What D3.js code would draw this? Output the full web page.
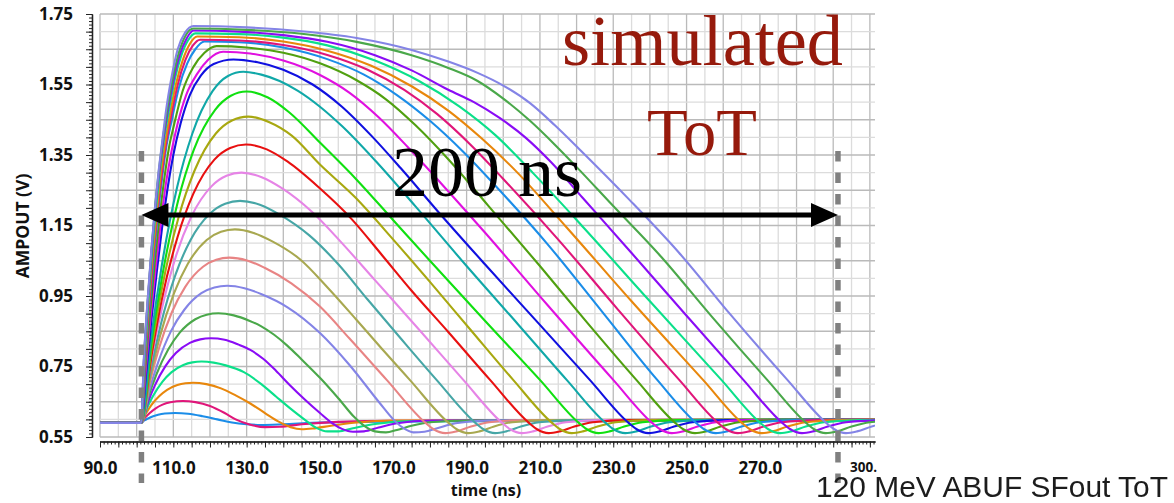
<!DOCTYPE html>
<html>
<head>
<meta charset="utf-8">
<script src="https://cdn.jsdelivr.net/npm/d3@7"></script>
<style>
  html, body { margin: 0; padding: 0; background: #fff; }
  svg { display: block; }
</style>
</head>
<body>
<svg id="chart" width="1174" height="503"></svg>
<script>
// AMPOUT transient for a sweep of injected charge: [time ns, volts]
const step01 = [[90,.59],[101.2,.59],[102.1,.597],[103.1,.6025],[104.5,.6088],[105.85,.6131],[107.7,.6165],[110.5,.618],[114,.616],[118,.609],[122,.6],[126,.591],[130,.586],[134,.584],[140,.586],[148,.59],[160,.593],[200,.595],[310,.596]];
const step02 = [[90,.59],[101.2,.59],[102.3,.605],[103.5,.6176],[105.2,.6315],[106.9,.6411],[109.2,.6486],[112.6,.652],[116,.649],[120,.638],[124,.618],[127,.6],[131,.585],[135,.578],[139,.579],[145,.586],[155,.593],[170,.596],[310,.597]];
const step03 = [[90,.59],[101.2,.59],[102.6,.618],[104,.6407],[106.2,.6664],[108.3,.684],[111.1,.6977],[113.3,.7026],[115.4,.704],[119,.7],[123,.688],[127,.668],[131,.645],[135,.618],[139,.592],[142,.578],[145,.572],[148,.574],[153,.582],[160,.591],[170,.597],[310,.598]];
const step04 = [[90,.59],[101.2,.59],[102.85,.633],[104.5,.667],[107,.7066],[109.45,.7334],[112.75,.7544],[115.2,.7618],[117.7,.764],[121,.7609],[124.3,.7532],[129.25,.7339],[134,.7],[138,.665],[141.8,.632],[146,.598],[149,.576],[152,.566],[155,.566],[159,.575],[165,.587],[175,.595],[310,.598]];
const step05 = [[90,.59],[101.2,.59],[103.1,.649],[105,.697],[107.85,.751],[110.7,.788],[114.5,.817],[117.35,.827],[120.2,.83],[124,.826],[127.8,.812],[131,.797],[134.5,.772],[138,.738],[141.8,.697],[146,.655],[150,.618],[153.5,.588],[156,.573],[159,.565],[162,.566],[166,.577],[171,.589],[180,.597],[310,.598]];
const step06 = [[90,.59],[101.2,.59],[103.3,.667],[105.4,.728],[108.6,.798],[111.75,.846],[116,.884],[119.1,.897],[122.3,.901],[126.5,.895],[130.7,.88],[134,.864],[137.5,.84],[141,.81],[145,.77],[150,.718],[155,.66],[159.5,.605],[162,.582],[165,.566],[168,.563],[171,.57],[175,.582],[180,.592],[190,.597],[310,.598]];
const step07 = [[90,.59],[101.2,.59],[103.55,.686],[105.9,.763],[109.4,.851],[113,.911],[117.65,.958],[121.2,.974],[124.7,.979],[129.4,.972],[134.1,.955],[141.15,.918],[150,.845],[158,.755],[166.4,.645],[170,.6],[172.5,.577],[175.5,.563],[178.5,.565],[182,.575],[187,.589],[196,.597],[310,.598]];
const step08 = [[90,.59],[101.2,.59],[103.6,.705],[106,.799],[109.6,.904],[113.25,.976],[118.1,1.033],[121.7,1.053],[125.3,1.059],[130.1,1.051],[134.9,1.03],[142.2,.986],[150,.92],[158,.83],[168.2,.712],[178.8,.59],[181,.572],[184.2,.561],[187.2,.566],[191.2,.58],[196.2,.592],[206.2,.598],[310,.6]];
const step09 = [[90,.59],[101.2,.59],[103.8,.725],[106.3,.834],[110.2,.958],[114,1.042],[119.1,1.109],[123,1.132],[126.8,1.139],[131.9,1.129],[137,1.105],[144.7,1.053],[152,.975],[160,.882],[167,.799],[174.5,.712],[185.1,.59],[187.3,.572],[190.5,.561],[193.5,.566],[197.5,.58],[202.5,.592],[212.5,.598],[310,.6]];
const step10 = [[90,.59],[101.2,.59],[103.9,.745],[106.6,.87],[110.65,1.012],[114.7,1.109],[120.1,1.185],[124.15,1.212],[128.2,1.22],[133.6,1.209],[139,1.181],[147.1,1.122],[155,1.04],[163,.94],[172,.83],[181.8,.712],[192.4,.59],[194.6,.572],[197.8,.561],[200.8,.566],[204.8,.58],[209.8,.592],[219.8,.598],[310,.6]];
const step11 = [[90,.59],[101.2,.59],[103.9,.765],[106.7,.906],[110.8,1.066],[114.9,1.175],[120.4,1.261],[124.5,1.291],[128.6,1.3],[134.1,1.287],[139.6,1.256],[147.8,1.189],[156,1.1],[165,.995],[177,.855],[189.1,.712],[199.7,.59],[201.9,.572],[205.1,.561],[208.1,.566],[212.1,.58],[217.1,.592],[227.1,.598],[310,.6]];
const step12 = [[90,.59],[101.2,.59],[104.1,.784],[106.9,.942],[111.2,1.119],[115.5,1.241],[121.2,1.337],[125.5,1.37],[129.8,1.38],[135.5,1.366],[141.2,1.331],[149.8,1.257],[158.4,1.171],[167,1.065],[175,.965],[185,.848],[196.4,.712],[207,.59],[209.2,.572],[212.4,.561],[215.4,.566],[219.4,.58],[224.4,.592],[234.4,.598],[310,.6]];
const step13 = [[90,.59],[101.2,.59],[104.1,.804],[107,.977],[111.4,1.172],[115.8,1.306],[121.6,1.411],[126,1.448],[130.4,1.459],[136.2,1.443],[142.3,1.405],[150,1.323],[159.6,1.23],[170,1.11],[180,.99],[191,.855],[202.7,.712],[213.3,.59],[215.5,.572],[218.7,.561],[221.7,.566],[225.7,.58],[230.7,.592],[240.7,.598],[310,.6]];
const step14 = [[90,.59],[101.2,.59],[104.1,.821],[107,1.008],[111.3,1.22],[115.6,1.365],[121.4,1.478],[125.7,1.518],[130,1.53],[135.8,1.513],[141.5,1.472],[150.2,1.383],[160,1.28],[170,1.165],[180,1.05],[195,.88],[210,.712],[220.6,.59],[222.8,.572],[226,.561],[229,.566],[233,.58],[238,.592],[248,.598],[310,.6]];
const step15 = [[90,.59],[101.2,.59],[104,.835],[106.8,1.033],[111,1.257],[115.2,1.411],[120.7,1.531],[124.9,1.574],[129.1,1.586],[134,1.578],[139,1.56],[144,1.532],[150,1.487],[156,1.432],[165,1.335],[176,1.205],[190,1.035],[204,.87],[217.3,.712],[227.9,.59],[230.1,.572],[233.3,.561],[236.3,.566],[240.3,.58],[245.3,.592],[255.3,.598],[310,.6]];
const step16 = [[90,.59],[101.2,.59],[102.5,.72],[104,.88],[105.5,1.02],[107,1.15],[108.5,1.26],[110,1.35],[112,1.44],[114.5,1.52],[117.5,1.575],[121,1.608],[126.4,1.621],[133,1.613],[140,1.592],[148,1.55],[156,1.487],[164,1.405],[172,1.313],[182,1.192],[195,1.04],[210,.868],[223.6,.712],[234.2,.59],[236.4,.572],[239.6,.561],[242.6,.566],[246.6,.58],[251.6,.592],[261.6,.598],[310,.6]];
const step17 = [[90,.59],[101.2,.59],[102.4,.73],[103.8,.89],[105.2,1.03],[106.6,1.16],[108,1.27],[109.5,1.36],[111.2,1.44],[113.5,1.52],[116.5,1.58],[119.5,1.62],[123.6,1.643],[131,1.638],[140,1.618],[150,1.577],[158,1.527],[166,1.457],[174,1.372],[183,1.27],[195,1.13],[212,.925],[230,.712],[240.6,.59],[242.8,.572],[246,.561],[249,.566],[253,.58],[258,.592],[268,.598],[310,.6]];
const step18 = [[90,.59],[101.2,.59],[102.3,.74],[103.6,.9],[104.9,1.04],[106.2,1.17],[107.5,1.28],[108.8,1.37],[110.3,1.44],[112.5,1.53],[115.5,1.6],[118.5,1.64],[121.8,1.659],[130,1.655],[140,1.64],[150,1.61],[160,1.562],[168,1.508],[176,1.435],[185,1.338],[196,1.205],[210,1.035],[223,.873],[236.3,.712],[246.9,.59],[249.1,.572],[252.3,.561],[255.3,.566],[259.3,.58],[264.3,.592],[274.3,.598],[310,.6]];
const step19 = [[90,.59],[101.2,.59],[102.2,.75],[103.4,.91],[104.6,1.05],[105.8,1.18],[107,1.29],[108.2,1.38],[109.6,1.45],[111.5,1.54],[113.8,1.61],[116,1.65],[118.5,1.672],[128,1.67],[140,1.655],[152,1.622],[162,1.578],[171,1.52],[180,1.447],[189,1.36],[199,1.25],[212,1.098],[227,.905],[242,.712],[252.6,.59],[254.8,.572],[258,.561],[261,.566],[265,.58],[270,.592],[280,.598],[310,.6]];
const step20 = [[90,.59],[101.2,.59],[102.2,.755],[103.3,.91],[104.4,1.05],[105.6,1.18],[106.8,1.29],[108,1.38],[109.4,1.46],[111.2,1.55],[113.3,1.62],[115.3,1.66],[117.3,1.677],[128,1.675],[140,1.662],[152,1.634],[163,1.592],[173,1.535],[182,1.466],[191,1.38],[200,1.282],[215,1.11],[231,.915],[248,.712],[258.6,.59],[260.8,.572],[264,.561],[267,.566],[271,.58],[276,.592],[286,.598],[310,.6]];
const step21 = [[90,.59],[101.2,.59],[102.1,.76],[103.2,.92],[104.3,1.06],[105.4,1.18],[106.5,1.29],[107.7,1.38],[109,1.46],[110.7,1.55],[112.6,1.62],[114.5,1.665],[116.5,1.686],[128,1.684],[140,1.672],[152,1.646],[164,1.603],[175,1.545],[185,1.476],[194,1.398],[203.4,1.305],[217,1.148],[235,.935],[254.5,.712],[265.1,.59],[267.3,.572],[270.5,.561],[273.5,.566],[277.5,.58],[282.5,.592],[292.5,.598],[310,.6]];
const step22 = [[90,.59],[101.2,.59],[102.1,.765],[103.1,.92],[104.1,1.06],[105.2,1.19],[106.3,1.3],[107.4,1.39],[108.7,1.47],[110.3,1.56],[112.1,1.63],[114,1.675],[116,1.695],[128,1.693],[140,1.683],[152,1.661],[165,1.618],[177,1.56],[188,1.488],[198,1.405],[208,1.3],[222,1.143],[240,.935],[259.5,.712],[270.1,.59],[272.3,.572],[275.5,.561],[278.5,.566],[282.5,.58],[287.5,.592],[297.5,.598],[310,.6]];
const step23 = [[90,.59],[101.2,.59],[102,.77],[103,.93],[104,1.07],[105,1.19],[106,1.29],[107.1,1.38],[108.4,1.47],[110,1.56],[111.8,1.635],[113.6,1.68],[115.5,1.703],[128,1.7],[140,1.69],[152,1.671],[165,1.633],[175,1.59],[185,1.535],[192,1.5],[199,1.455],[206,1.4],[213,1.33],[221.7,1.228],[235,1.072],[250,.894],[265.5,.712],[276.1,.59],[278.3,.572],[281.5,.561],[284.5,.566],[288.5,.58],[293.5,.592],[303.5,.598],[310,.6]];
const step24 = [[90,.59],[101.2,.59],[102,.775],[103,.935],[104,1.075],[105,1.2],[106,1.3],[107,1.385],[108.2,1.47],[109.8,1.565],[111.5,1.64],[113.4,1.69],[115.5,1.709],[130,1.705],[145,1.694],[160,1.671],[175,1.633],[185,1.597],[193,1.56],[200,1.51],[207.3,1.447],[214,1.38],[221,1.305],[229.1,1.215],[243,1.062],[257,.89],[272,.712],[282.6,.59],[284.8,.572],[288,.561],[291,.566],[295,.58],[300,.592],[310,.598]];
const step25 = [[90,.59],[101.2,.59],[102,.78],[103,.94],[104,1.08],[105,1.2],[106,1.305],[107,1.39],[108,1.475],[109.5,1.57],[111.2,1.65],[113.2,1.697],[115.5,1.716],[130,1.712],[145,1.701],[160,1.682],[175,1.648],[185,1.615],[193,1.583],[200,1.547],[207.3,1.497],[214,1.435],[220.9,1.365],[234.5,1.222],[248,1.072],[262,.897],[277.5,.712],[288.1,.59],[290.3,.572],[293.5,.561],[296.5,.566],[300.5,.58],[305.5,.592],[315,.598]];

const sweep = [step01, step02, step03, step04, step05, step06, step07, step08, step09, step10,
               step11, step12, step13, step14, step15, step16, step17, step18, step19, step20,
               step21, step22, step23, step24, step25];

// trace colours cycle through an 18-entry palette
const tracePalette = ["#1b8de8", "#e0167a", "#e8870c", "#0be08a", "#8a0cf5", "#4aa84a",
                      "#8484e6", "#e88484", "#a8a850", "#46a6a6", "#e684e6", "#e81010",
                      "#a8a810", "#10e010", "#10a8a8", "#1010e0", "#e010e0", "#50a010"];

const xLabelTicks = [90, 110, 130, 150, 170, 190, 210, 230, 250, 270];
const yLabelTicks = [0.55, 0.75, 0.95, 1.15, 1.35, 1.55, 1.75];
const totMarkers = [101.3, 291.3];   // threshold crossings marked by dashed lines

const svg = d3.select("#chart");
svg.append("rect").attr("width", 1174).attr("height", 503).attr("fill", "#fff");

const x = d3.scaleLinear().domain([90, 301.4]).range([100, 875]);
const y = d3.scaleLinear().domain([0.55, 1.75]).range([437, 14]);

// grid
const grid = svg.append("g");
const vGrid = d3.range(90, 301, 5);
grid.selectAll("line.v").data(vGrid).join("line")
  .attr("x1", d => x(d)).attr("x2", d => x(d))
  .attr("y1", y(1.75)).attr("y2", y(0.55))
  .attr("stroke", d => d % 10 === 0 ? "#bababa" : "#dcdcdc")
  .attr("stroke-width", 1.3);
const hGrid = d3.range(0, 25).map(i => +(0.55 + i * 0.05).toFixed(2));
grid.selectAll("line.h").data(hGrid).join("line")
  .attr("x1", x(90)).attr("x2", 875)
  .attr("y1", d => y(d)).attr("y2", d => y(d))
  .attr("stroke", (d, i) => i % 2 === 0 ? "#bababa" : "#dcdcdc")
  .attr("stroke-width", 1.3);

// y axis (offset to the left of the plot box)
const fine = d3.range(0, 121).map(i => +(0.55 + i * 0.01).toFixed(2));
const yAxisG = svg.append("g").attr("transform", "translate(92,0)");
yAxisG.call(d3.axisLeft(y).tickValues(fine).tickSize(3).tickFormat("").tickSizeOuter(0));
yAxisG.append("g").call(d3.axisLeft(y).tickValues(hGrid).tickSize(6).tickFormat("").tickSizeOuter(0));
yAxisG.append("g").call(d3.axisLeft(y).tickValues(yLabelTicks).tickSize(0).tickPadding(19)
  .tickFormat(d3.format(".2f")).tickSizeOuter(0));
yAxisG.selectAll("path").attr("stroke", "#222").attr("stroke-width", 1.2);
yAxisG.selectAll("line").attr("stroke", "#222").attr("stroke-width", 1);
yAxisG.selectAll("text").attr("font-family", "'Open Sans', sans-serif")
  .attr("font-weight", 700).attr("font-size", 17).attr("fill", "#111");

// x axis (offset below the plot box)
const fineT = d3.range(90, 302, 1);
const xAxisG = svg.append("g").attr("transform", "translate(0,441.5)");
xAxisG.call(d3.axisBottom(x).tickValues(fineT).tickSize(3).tickFormat("").tickSizeOuter(0));
xAxisG.append("g").call(d3.axisBottom(x).tickValues(vGrid).tickSize(6).tickFormat("").tickSizeOuter(0));
xAxisG.append("g").call(d3.axisBottom(x).tickValues(xLabelTicks).tickSize(0).tickPadding(20)
  .tickFormat(d3.format(".1f")).tickSizeOuter(0));
xAxisG.selectAll("path").attr("stroke", "#222").attr("stroke-width", 1.2);
xAxisG.selectAll("line").attr("stroke", "#222").attr("stroke-width", 1);
xAxisG.selectAll("text").attr("font-family", "'Open Sans', sans-serif")
  .attr("font-weight", 700).attr("font-size", 17).attr("fill", "#111");
// end label, cut at the frame edge
svg.append("text").attr("x", 850).attr("y", 471.5).text("300.")
  .attr("font-family", "'Open Sans', sans-serif").attr("font-weight", 700)
  .attr("font-size", 13.5).attr("fill", "#111");

svg.append("text").attr("x", 486).attr("y", 496).attr("text-anchor", "middle")
  .attr("font-family", "'Open Sans', sans-serif").attr("font-weight", 700)
  .attr("font-size", 16).attr("fill", "#111").text("time (ns)");
svg.append("text").attr("transform", "translate(29,226) rotate(-90)").attr("text-anchor", "middle")
  .attr("font-family", "'Open Sans', sans-serif").attr("font-weight", 700)
  .attr("font-size", 17.5).attr("fill", "#111").text("AMPOUT (V)");

// traces
svg.append("clipPath").attr("id", "plotClip").append("rect")
  .attr("x", 100).attr("y", 10).attr("width", 775).attr("height", 430);
const line = d3.line().x(d => x(d[0])).y(d => y(d[1])).curve(d3.curveMonotoneX);
svg.append("g").attr("clip-path", "url(#plotClip)")
  .selectAll("path").data(sweep).join("path")
  .attr("d", line)
  .attr("fill", "none")
  .attr("stroke", (d, i) => tracePalette[i % tracePalette.length])
  .attr("stroke-width", 2.1)
  .attr("stroke-linejoin", "round");

// ToT threshold markers
svg.selectAll("line.tot").data(totMarkers).join("line")
  .attr("x1", d => x(d)).attr("x2", d => x(d))
  .attr("y1", 151).attr("y2", 483)
  .attr("stroke", "#808080").attr("stroke-width", 5.5)
  .attr("stroke-dasharray", "10.5,11");

// double-headed arrow across the ToT window
const ay = 215;
const ax0 = x(totMarkers[0]), ax1 = x(totMarkers[1]);
svg.append("line").attr("x1", ax0 + 20).attr("x2", ax1 - 20).attr("y1", ay).attr("y2", ay)
  .attr("stroke", "#000").attr("stroke-width", 5);
svg.append("path").attr("d", `M${ax0},${ay} L${ax0 + 27},${ay - 12} L${ax0 + 27},${ay + 12} Z`).attr("fill", "#000");
svg.append("path").attr("d", `M${ax1},${ay} L${ax1 - 27},${ay - 12} L${ax1 - 27},${ay + 12} Z`).attr("fill", "#000");

svg.append("text").attr("x", 392).attr("y", 196)
  .attr("font-family", "'Liberation Serif', serif").attr("font-size", 72)
  .attr("fill", "#000").text("200 ns");

svg.append("text").attr("x", 562).attr("y", 65)
  .attr("font-family", "'Liberation Serif', serif").attr("font-size", 72)
  .attr("textLength", 281).attr("lengthAdjust", "spacingAndGlyphs")
  .attr("fill", "#961a0c").text("simulated");
svg.append("text").attr("x", 647).attr("y", 155)
  .attr("font-family", "'Liberation Serif', serif").attr("font-size", 68)
  .attr("textLength", 110).attr("lengthAdjust", "spacingAndGlyphs")
  .attr("fill", "#961a0c").text("ToT");

// caption
const soft = svg.append("filter").attr("id", "soft");
soft.append("feGaussianBlur").attr("stdDeviation", 0.45);
svg.append("text").attr("x", 816).attr("y", 497)
  .attr("font-family", "'Liberation Sans', Arial, sans-serif").attr("font-size", 29)
  .attr("textLength", 352).attr("lengthAdjust", "spacingAndGlyphs")
  .attr("fill", "#1c1c1c").attr("filter", "url(#soft)").text("120 MeV ABUF SFout ToT");
</script>
</body>
</html>
